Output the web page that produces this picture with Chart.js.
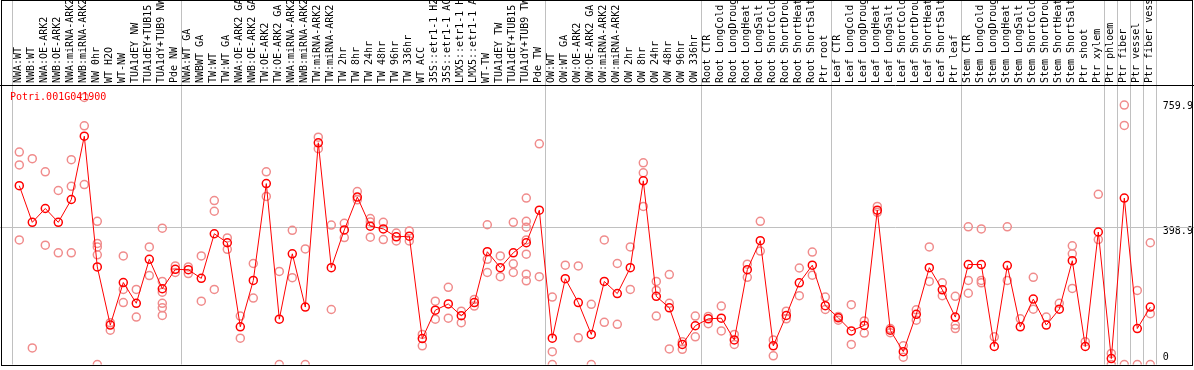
<!DOCTYPE html>
<html>
<head>
<meta charset="utf-8">
<script src="https://cdn.jsdelivr.net/npm/chart.js@4.4.0/dist/chart.umd.min.js"></script>
<style>
    html, body { margin: 0; padding: 0; background: #fff; }
    #wrap { position: relative; width: 1194px; height: 370px; }
    #gene { position: absolute; left: 10px; top: 92px; font: 10px/10px "DejaVu Sans Mono", monospace; color: #f00; white-space: nowrap; }
</style>
</head>
<body>
<div id="wrap">
    <canvas id="chart" width="1194" height="370"></canvas>
    <div id="gene">Potri.001G041900</div>
</div>
<script>
const samples = [
    'NWA:WT', 'NWB:WT', 'NWA:OE-ARK2', 'NWB:OE-ARK2', 'NWA:miRNA-ARK2', 'NWB:miRNA-ARK2', 'NW 0hr', 'WT H2O', 'WT-NW',
    'TUA1dEY NW', 'TUA1dEY+TUB15 NW', 'TUA1dY+TUB9 NW', 'Pde NW',
    'NWA:WT GA', 'NWBWT GA', 'TW:WT', 'TW:WT GA', 'NWA:OE-ARK2 GA', 'NWB:OE-ARK2 GA', 'TW:OE-ARK2', 'TW:OE-ARK2 GA',
    'NWA:miRNA-ARK2 GA', 'NWB:miRNA-ARK2 GA', 'TW:miRNA-ARK2', 'TW:miRNA-ARK2 GA', 'TW 2hr', 'TW 8hr', 'TW 24hr', 'TW 48hr',
    'TW 96hr', 'TW 336hr', 'WT ACC', '35S::etr1-1 H2O', '35S::etr1-1 ACC', 'LMX5::etr1-1 H2O', 'LMX5::etr1-1 ACC', 'WT-TW',
    'TUA1dEY TW', 'TUA1dEY+TUB15 TW', 'TUA1dY+TUB9 TW', 'Pde TW',
    'OW:WT', 'OW:WT GA', 'OW:OE-ARK2', 'OW:OE-ARK2 GA', 'OW:miRNA-ARK2', 'OW:miRNA-ARK2 GA', 'OW 2hr', 'OW 8hr', 'OW 24hr',
    'OW 48hr', 'OW 96hr', 'OW 336hr',
    'Root CTR', 'Root LongCold', 'Root LongDrought', 'Root LongHeat', 'Root LongSalt', 'Root ShortCold', 'Root ShortDrought',
    'Root ShortHeat', 'Root ShortSalt', 'Ptr root',
    'Leaf CTR', 'Leaf LongCold', 'Leaf LongDrought', 'Leaf LongHeat', 'Leaf LongSalt', 'Leaf ShortCold', 'Leaf ShortDrought',
    'Leaf ShortHeat', 'Leaf ShortSalt', 'Ptr leaf',
    'Stem CTR', 'Stem LongCold', 'Stem LongDrought', 'Stem LongHeat', 'Stem LongSalt', 'Stem ShortCold', 'Stem ShortDrought',
    'Stem ShortHeat', 'Stem ShortSalt', 'Ptr shoot',
    'Ptr xylem', 'Ptr phloem', 'Ptr fiber', 'Ptr vessel', 'Ptr fiber vessel'
];

// mittelwerte
const means = [
    517, 411, 451, 411, 477, 660, 282, 114, 237, 177, 304, 219, 275,
    274, 249, 378, 352, 109, 243, 523, 131, 320, 166, 641, 280, 389, 484, 400, 392, 369, 371, 75, 157, 175, 141, 179, 326, 280, 323, 352, 446,
    76, 248, 179, 87, 240, 205, 280, 531, 197, 164, 58, 112,
    132, 134, 71, 274, 358, 54, 142, 236, 287, 170,
    135, 97, 113, 446, 99, 37, 145, 280, 216, 137,
    289, 289, 52, 286, 109, 189, 114, 160, 300, 52,
    383, 17, 481, 104, 166
];

// einzelne replikate je probe
const replicates = [
    [614, 577, 360], [595, 48], [557, 345], [503, 323], [592, 515, 323], [772, 690, 520], [414, 350, 340, 317, 0], [121, 99],
    [314, 217, 179], [217, 137], [340, 257], [394, 240, 209, 177, 164, 142], [285, 266],
    [282, 263], [314, 183], [474, 443, 217], [366, 333], [140, 76], [292, 192], [557, 486], [269, 0], [388, 251], [334, 0],
    [657, 624], [403, 159], [408, 367], [500, 476], [422, 412, 368], [411, 361], [380, 357], [386, 357], [87, 54], [183, 131],
    [223, 134], [154, 121], [188, 169], [404, 304, 266], [314, 254], [411, 291, 266], [481, 414, 397, 360, 319, 261, 242], [638, 254],
    [195, 37, 0], [287], [285, 77], [174, 0], [360, 122], [292, 116], [340, 217], [583, 554, 457], [240, 214, 140], [260, 177, 45],
    [66, 44], [140, 80],
    [139, 118], [169, 97], [87, 58], [290, 252], [414, 328], [71, 25], [154, 132], [279, 199], [325, 258], [195, 159],
    [139, 128], [173, 58], [126, 91], [457, 440], [104, 92], [54, 21], [158, 128], [340, 240], [236, 199], [197, 114, 104],
    [398, 243, 206], [392, 243, 236], [80], [398, 243], [132], [252, 160], [137], [177], [343, 320, 220], [66],
    [492, 361], [32, 0], [750, 691, 0], [214, 0], [352, 147, 0]
];

const yTicks = [0, 398.9, 759.9];
const groupStarts = [0, 13, 41, 53, 63, 73, 84, 85, 86, 87];

const FONT = '"DejaVu Sans Mono", monospace';

const framePlugin = {
    id: 'frame',
    beforeDatasetsDraw(chart) {
        const { ctx, scales } = chart;
        const gy = Math.round(scales.y.getPixelForValue(yTicks[1])) + 0.5;
        ctx.save();
        ctx.strokeStyle = '#c0c0c0';
        ctx.lineWidth = 1;
        ctx.beginPath();
        ctx.moveTo(0, gy);
        ctx.lineTo(chart.width, gy);
        ctx.stroke();
        ctx.restore();
    },
    afterDraw(chart) {
        const { ctx, chartArea } = chart;
        ctx.save();
        ctx.strokeStyle = '#000';
        ctx.lineWidth = 1;
        ctx.strokeRect(1.5, 0.5, chart.width - 3, Math.round(chartArea.bottom));
        const ty = Math.round(chartArea.top) + 0.5;
        ctx.beginPath();
        ctx.moveTo(0, ty);
        ctx.lineTo(chart.width, ty);
        ctx.stroke();
        ctx.restore();
    }
};

function main() {
    const maxReps = Math.max(...replicates.map(r => r.length));
    const repSets = [];
    for (let k = 0; k < maxReps; k++) {
        repSets.push({
            data: replicates.map(r => (r[k] === undefined ? null : r[k])),
            showLine: false,
            pointRadius: 4,
            pointBorderWidth: 1.5,
            pointBorderColor: '#f08c8c',
            pointBackgroundColor: 'rgba(0,0,0,0)'
        });
    }

    new Chart(document.getElementById('chart'), {
        type: 'line',
        data: {
            labels: samples,
            datasets: [
                {
                    data: means,
                    borderColor: '#ff0000',
                    borderWidth: 1,
                    tension: 0,
                    pointRadius: 4,
                    pointBorderWidth: 1.5,
                    pointBorderColor: '#ff0000',
                    pointBackgroundColor: 'rgba(0,0,0,0)'
                },
                ...repSets
            ]
        },
        options: {
            responsive: false,
            animation: false,
            layout: { padding: { left: 12.8, right: 1.2, top: 0, bottom: 2 } },
            plugins: { legend: { display: false }, tooltip: { enabled: false }, title: { display: false } },
            scales: {
                x: {
                    position: 'top',
                    offset: true,
                    afterFit: s => { s.height = 85; s.paddingLeft = 0; s.paddingRight = 0; },
                    grid: {
                        offset: true,
                        tickLength: 85,
                        lineWidth: 1,
                        color: c => (c.index === undefined || groupStarts.includes(c.index)) ? '#c0c0c0' : 'rgba(0,0,0,0)'
                    },
                    border: { display: false },
                    ticks: {
                        autoSkip: false,
                        minRotation: 90,
                        maxRotation: 90,
                        padding: -83,
                        labelOffset: 11,
                        color: '#000',
                        font: { family: FONT, size: 10 }
                    }
                },
                y: {
                    position: 'right',
                    min: 0,
                    max: 808,
                    afterBuildTicks: s => { s.ticks = yTicks.map(v => ({ value: v })); },
                    afterFit: s => { s.width = 36; s.paddingTop = 0; s.paddingBottom = 0; },
                    grid: { display: false, drawTicks: false },
                    border: { display: false },
                    ticks: {
                        align: 'start',
                        padding: 6,
                        color: '#000',
                        font: { family: FONT, size: 10, lineHeight: 1.2 },
                        callback: v => (v === 0 ? ['0', '', ''] : String(v))
                    }
                }
            }
        },
        plugins: [framePlugin]
    });
}

window.onload = function () {
    main();
};
</script>
</body>
</html>
